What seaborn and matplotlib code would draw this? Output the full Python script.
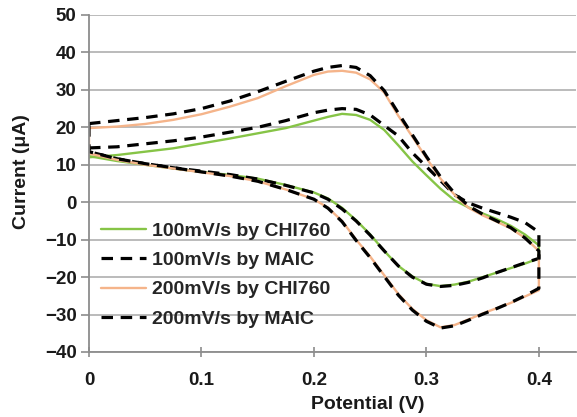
import matplotlib
matplotlib.use("Agg")
import matplotlib.pyplot as plt
import seaborn as sns
import pandas as pd

# ---------------- data ----------------
series_names = ["100mV/s by CHI760", "100mV/s by MAIC",
                "200mV/s by CHI760", "200mV/s by MAIC"]

potential_fwd = [0, 0.025, 0.05, 0.075, 0.1, 0.125, 0.15, 0.175, 0.2, 0.2125,
                 0.225, 0.2375, 0.25, 0.2625, 0.275, 0.2875, 0.3, 0.3125,
                 0.325, 0.3375, 0.35, 0.3625, 0.375, 0.3875, 0.4]
potential_rev = [0.4, 0.3875, 0.375, 0.3625, 0.35, 0.3375, 0.325, 0.3125, 0.3,
                 0.2875, 0.275, 0.2625, 0.25, 0.2375, 0.225, 0.2125, 0.2,
                 0.175, 0.15, 0.125, 0.1, 0.075, 0.05, 0.025, 0]

chi100_fwd = [12.0, 12.6, 13.5, 14.4, 15.7, 17.0, 18.4, 19.8, 21.8, 22.8,
              23.6, 23.3, 22.0, 19.3, 15.2, 10.9, 7.2, 3.6, 0.5, -1.4,
              -3.0, -4.5, -6.3, -8.6, -11.5]
chi100_rev = [-15.0, -16.4, -17.6, -18.8, -20.0, -21.2, -22.0, -22.4, -21.8,
              -19.8, -17.0, -13.0, -8.6, -4.8, -1.5, 1.0, 2.6, 4.6, 6.3, 7.3,
              8.1, 9.0, 10.0, 11.0, 12.3]

maic100_fwd = [14.5, 14.8, 15.6, 16.4, 17.4, 18.7, 20.0, 21.8, 23.9, 24.6,
               25.0, 24.8, 23.3, 20.5, 17.7, 13.2, 9.5, 5.8, 2.0, -0.2,
               -1.6, -2.8, -4.0, -5.4, -8.0]
maic100_rev = [-15.0, -16.2, -17.5, -18.8, -20.2, -21.4, -22.2, -22.5, -21.9,
               -20.0, -17.0, -13.0, -8.8, -5.0, -1.8, 0.8, 2.5, 4.5, 6.2, 7.4,
               8.3, 9.2, 10.3, 11.6, 13.5]

chi200_fwd = [19.8, 20.2, 20.9, 22.0, 23.5, 25.5, 27.8, 31.0, 34.0, 34.9,
              35.1, 34.6, 32.8, 29.3, 23.1, 17.5, 11.8, 6.3, 2.0, -1.5,
              -3.5, -5.2, -7.0, -9.5, -13.0]
chi200_rev = [-23.5, -25.2, -26.9, -28.3, -29.7, -31.3, -32.8, -33.4, -31.5,
              -28.5, -24.5, -19.5, -14.5, -10.0, -5.0, -1.5, 0.8, 3.4, 5.6,
              7.0, 8.0, 9.0, 10.0, 11.3, 13.0]

maic200_fwd = [21.0, 21.8, 22.6, 23.6, 25.0, 27.0, 29.5, 32.3, 35.0, 36.0,
               36.5, 36.0, 33.8, 29.8, 23.8, 18.0, 12.2, 6.8, 2.4, -1.0,
               -3.2, -5.0, -6.8, -9.5, -13.0]
maic200_rev = [-23.0, -25.0, -26.8, -28.4, -29.9, -31.5, -33.0, -33.6, -31.8,
               -28.8, -24.8, -19.8, -14.8, -10.2, -5.2, -1.6, 0.8, 3.4, 5.6,
               7.0, 8.1, 9.2, 10.3, 11.6, 13.5]

x_ticks = [0, 0.1, 0.2, 0.3, 0.4]
x_tick_labels = ["0", "0.1", "0.2", "0.3", "0.4"]
y_ticks = [-40, -30, -20, -10, 0, 10, 20, 30, 40, 50]
x_label = "Potential (V)"
y_label = "Current (\u03bcA)"

# ---------------- build long table ----------------
fwd_list = [chi100_fwd, maic100_fwd, chi200_fwd, maic200_fwd]
rev_list = [chi100_rev, maic100_rev, chi200_rev, maic200_rev]
rows = []
for name, fwd, rev in zip(series_names, fwd_list, rev_list):
    pts = (list(zip(potential_fwd, fwd)) + list(zip(potential_rev, rev))
           + [(potential_fwd[0], fwd[0])])
    for p, c in pts:
        rows.append({"series": name, "potential": p, "current": c})
df = pd.DataFrame(rows)

# ---------------- style ----------------
sns.set_style("white")
plt.rcParams["font.family"] = ["Liberation Sans", "DejaVu Sans"]
plt.rcParams["font.weight"] = "bold"

palette = {series_names[0]: "#86C446", series_names[1]: "#000000",
           series_names[2]: "#F5B48A", series_names[3]: "#000000"}
dashes = {series_names[0]: "", series_names[1]: (3.6, 2.4),
          series_names[2]: "", series_names[3]: (3.6, 2.4)}
sizes = {series_names[0]: 1.7, series_names[1]: 2.3,
         series_names[2]: 1.7, series_names[3]: 2.3}

fig = plt.figure(figsize=(5.77, 4.17), dpi=100)
ax = fig.add_axes([89 / 577, 1 - 352 / 417, (576 - 89) / 577, (352 - 15) / 417])

sns.lineplot(data=df, x="potential", y="current", hue="series", style="series",
             size="series", hue_order=series_names, style_order=series_names,
             size_order=series_names, palette=palette, dashes=dashes,
             sizes=sizes, sort=False, estimator=None, ax=ax)

ax.set_xlim(0, 0.433)
ax.set_ylim(-40, 50)
ax.set_xticks(x_ticks)
ax.set_xticklabels(x_tick_labels)
ax.set_yticks(y_ticks)

ax.yaxis.grid(True, color="#A8A8A8", lw=1.1)
ax.xaxis.grid(False)
ax.set_axisbelow(True)
for s in ["top", "right"]:
    ax.spines[s].set_visible(False)
for s in ["left", "bottom"]:
    ax.spines[s].set_color("#8C8C8C")
    ax.spines[s].set_linewidth(1.3)

ax.tick_params(axis="y", direction="out", length=6, width=1.2, color="#8C8C8C",
               pad=3, labelsize=13.5, labelcolor="#1A1A1A", left=True)
ax.tick_params(axis="x", direction="inout", length=7, width=1.2, color="#8C8C8C",
               pad=11, labelsize=13.5, labelcolor="#1A1A1A", bottom=True)
for lab in ax.get_xticklabels() + ax.get_yticklabels():
    lab.set_fontweight("bold")

ax.set_xlabel(x_label, fontsize=14, fontweight="bold", color="#1A1A1A")
ax.xaxis.set_label_coords(0.572, -0.131)
ax.set_ylabel(y_label, fontsize=14, fontweight="bold", color="#1A1A1A")
ax.yaxis.set_label_coords(-0.121, 0.534)

handles, labels = ax.get_legend_handles_labels()
ax.legend(handles, labels, loc="upper left", bbox_to_anchor=(0.025, 0.385),
          frameon=False, prop={"weight": "bold", "size": 14},
          handlelength=2.3, handletextpad=0.3, labelspacing=0.6,
          borderaxespad=0, borderpad=0)

fig.savefig("out.png", dpi=100)
